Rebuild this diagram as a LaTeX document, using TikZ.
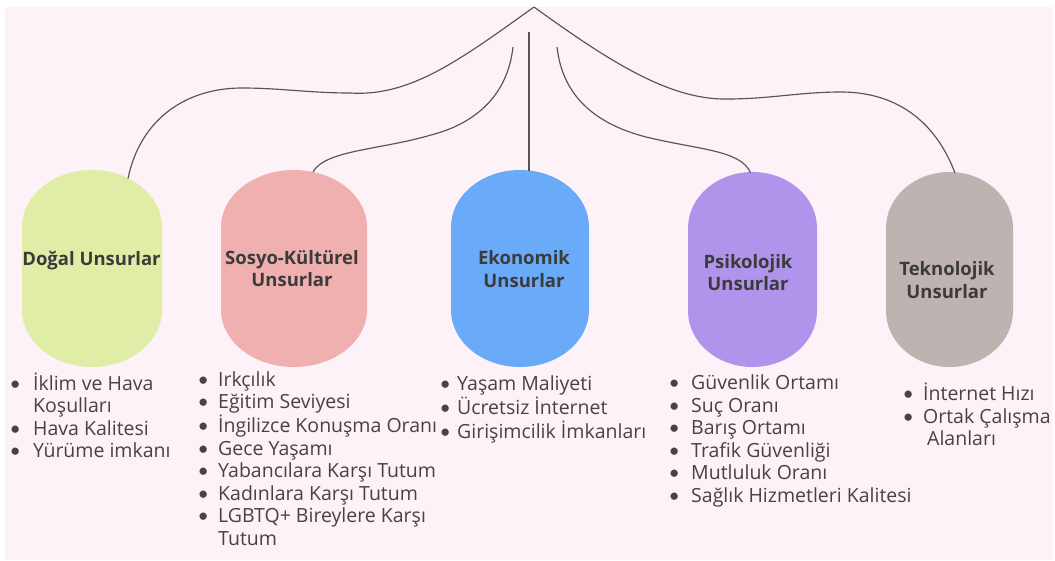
\documentclass[tikz,border=0pt]{standalone}
\usepackage{fontspec}
\setmainfont{Open Sans}
\newfontfamily\bulletfont{Lato}
\newcommand\bul{{\bulletfont •}}
\definecolor{bgc}{HTML}{FDF2F7}
\definecolor{greenc}{HTML}{E0EDA6}
\definecolor{pinkc}{HTML}{F0B0B0}
\definecolor{bluec}{HTML}{6AABF9}
\definecolor{purplec}{HTML}{B093EB}
\definecolor{grayc}{HTML}{BDB3B1}
\definecolor{linec}{HTML}{555555}
\definecolor{headc}{HTML}{3B3B3B}
\definecolor{textc}{HTML}{444444}
% fill colour, centre x, top y, width, height, end radius
\newcommand\mypill[6]{%
  \fill[#1] ({#2-#4/2},{#3+#6}) arc[start angle=180,end angle=360,x radius={#4/2},y radius=#6]
    -- ({#2+#4/2},{#3+#5-#6}) arc[start angle=0,end angle=180,x radius={#4/2},y radius=#6] -- cycle;}
\tikzset{
  conn/.style={draw=linec, line width=1.15pt},
  head/.style={font=\bfseries\fontsize{18.5}{22.5}\selectfont, text=headc, inner sep=0pt, anchor=base},
  lst/.style={font=\fontsize{19.5}{22.5}\selectfont, text=textc, inner sep=0pt, anchor=base west},
}
\begin{document}
\begin{tikzpicture}[x=1pt,y=-1pt]
\useasboundingbox (0,0) rectangle (1055,560);
\fill[white] (0,0) rectangle (1055,560);
\fill[bgc] (5,7) rectangle (1053,560);

% pills
\mypill{greenc}{92}{170}{140}{197}{57}
\mypill{pinkc}{294}{170}{146}{197}{57}
\mypill{bluec}{520}{170}{138}{197}{57}
\mypill{purplec}{752.5}{172}{129}{195}{56}
\mypill{grayc}{949.5}{172}{127}{195}{56}

% connector ends
\coordinate (apex) at (534,7);
\coordinate (s2) at (513,47);
\coordinate (s3) at (529,32);
\coordinate (s4) at (557,47);
\coordinate (e1) at (128,178.5);
\coordinate (e2) at (313,172);
\coordinate (e3) at (529,170.5);
\coordinate (e4) at (750.5,172.5);
\coordinate (e5) at (955,173);

\draw[conn] (apex) .. controls (460,60) and (410,97) .. (350,93)
  .. controls (310,93) and (280,88) .. (242,88)
  .. controls (185,88) and (140,120) .. (e1);
\draw[conn] (s2) .. controls (507,100) and (470,125) .. (431,135)
  .. controls (380,150) and (325,150) .. (e2);
\draw[conn] (s3) -- (e3);
\draw[conn] (s4) .. controls (563,100) and (600,125) .. (646,137)
  .. controls (700,150) and (740,150) .. (e4);
\draw[conn] (apex) .. controls (610,62) and (670,100) .. (727,99)
  .. controls (770,99) and (800,92) .. (841,92)
  .. controls (895,92) and (935,120) .. (e5);

% headings
\node[head] (h1) at (91.5,265) {Doğal Unsurlar};
\node[head] (h2) at (292,264.3) {\begin{tabular}[t]{@{}c@{}}Sosyo-Kültürel\\Unsurlar\end{tabular}};
\node[head] (h3) at (524,264.5) {\begin{tabular}[t]{@{}c@{}}Ekonomik\\Unsurlar\end{tabular}};
\node[head] (h4) at (748,268) {\begin{tabular}[t]{@{}c@{}}Psikolojik\\Unsurlar\end{tabular}};
\node[head] (h5) at (947,275.5) {\begin{tabular}[t]{@{}c@{}}Teknolojik\\Unsurlar\end{tabular}};

% lists
\node[lst] (l1) at (9.5,390) {\begin{tabular}[t]{@{}p{23.5pt}@{}l@{}}
\bul & İklim ve Hava\\ & Koşulları\\ \bul & Hava Kalitesi\\ \bul & Yürüme imkanı\end{tabular}};
\node[lst] (l2) at (197.5,386) {\begin{tabular}[t]{@{}p{20.5pt}@{}l@{}}
\bul & Irkçılık\\ \bul & Eğitim Seviyesi\\ \bul & İngilizce Konuşma Oranı\\ \bul & Gece Yaşamı\\
\bul & Yabancılara Karşı Tutum\\ \bul & Kadınlara Karşı Tutum\\ \bul & LGBTQ+ Bireylere Karşı\\ & Tutum\end{tabular}};
\node[lst] (l3) at (439.5,390) {\begin{tabular}[t]{@{}p{17.5pt}@{}l@{}}
\bul & Yaşam Maliyeti\\ \bul & Ücretsiz İnternet\\ \bul & Girişimcilik İmkanları\end{tabular}};
\node[lst] (l4) at (668.5,389.5) {\begin{tabular}[t]{@{}p{22.5pt}@{}l@{}}
\bul & Güvenlik Ortamı\\ \bul & Suç Oranı\\ \bul & Barış Ortamı\\ \bul & Trafik Güvenliği\\
\bul & Mutluluk Oranı\\ \bul & Sağlık Hizmetleri Kalitesi\end{tabular}};
\node[lst] (l5) at (902.5,400.5) {\begin{tabular}[t]{@{}p{20.5pt}@{}l@{}}
\bul & İnternet Hızı\\ \bul & Ortak Çalışma\\ & \hspace{4pt}Alanları\end{tabular}};
\end{tikzpicture}
\end{document}
